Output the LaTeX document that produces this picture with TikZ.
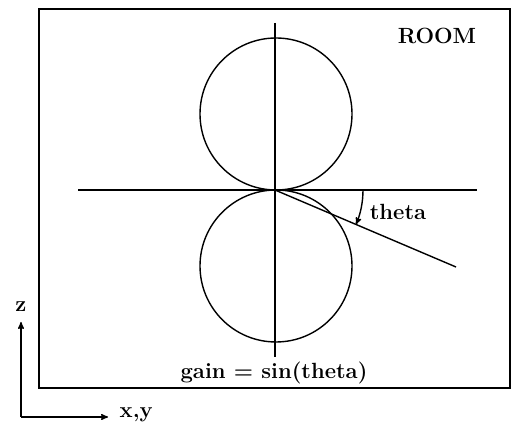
\documentclass[tikz,border=0pt]{standalone}
\usepackage{fontspec}
\usetikzlibrary{arrows,positioning}

\begin{document}
\begin{tikzpicture}[x=1pt, y=1pt, >=stealth', line width=1.4pt,
    lbl/.style={font=\fontsize{22}{26}\selectfont\bfseries, inner sep=1pt}]
      \useasboundingbox (0,0) rectangle (514,433);

      % room outline
      \draw (39,45) rectangle (510,424);

      % axes of the pattern
      \coordinate (O) at (275,243);
      \coordinate (ztop) at (275,410);
      \coordinate (zbot) at (275,76);
      \coordinate (hleft) at (78,243);
      \coordinate (hright) at (477,243);
      \coordinate (ray) at (456,166);
      \draw (ztop) -- (zbot);
      \draw (hleft) -- (hright);
      \draw (O) -- (ray);

      % figure-eight lobes
      \draw (276,319) circle (76);
      \draw (276,167) circle (76);

      % angle
      \draw [->] ([shift={(0:88)}]O) arc [start angle=0, end angle=-23, radius=88pt];

      \node (theta) [lbl] at (398,221) {theta};
      \node (room) [lbl] at (437,397) {ROOM};
      \node (gain) [lbl] at (274,60) {gain = sin(theta)};

      % coordinate axes
      \coordinate (corner) at (21,16);
      \coordinate (zend) at (21,111);
      \coordinate (xend) at (108,16);
      \node (z) [lbl] at (21,126) {z};
      \node (xy) [lbl, anchor=west] at (118,18) {x,y};
      \path [->] (corner) edge (zend)
      (corner) edge (xend);
    \end{tikzpicture}
\end{document}
